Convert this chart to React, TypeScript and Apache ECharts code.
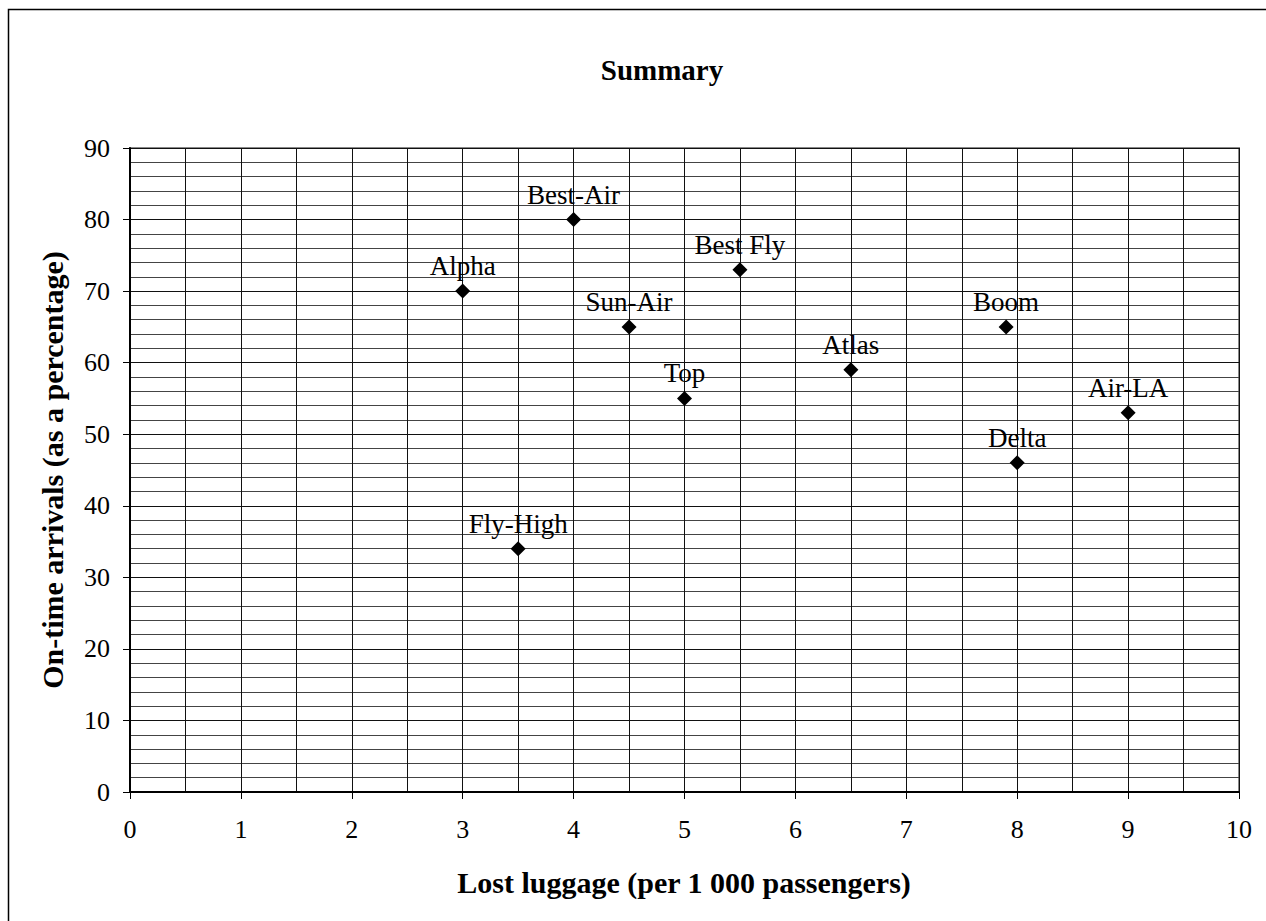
import React, { useEffect, useRef } from "react";
import * as echarts from "echarts";

const airlines = ["Alpha", "Fly-High", "Best-Air", "Sun-Air", "Top", "Best Fly", "Atlas", "Boom", "Delta", "Air-LA"];
const lostLuggage = [3, 3.5, 4, 4.5, 5, 5.5, 6.5, 7.9, 8, 9];
const onTime = [70, 34, 80, 65, 55, 73, 59, 65, 46, 53];

const FONT = "'Liberation Serif', 'Times New Roman', serif";

export default function App() {
  const ref = useRef<HTMLDivElement>(null);
  useEffect(() => {
    document.body.style.margin = "0";
    if (!ref.current) return;
    const chart = echarts.init(ref.current, null, { renderer: "svg" });
    const data = airlines.map((n, i) => ({ name: n, value: [lostLuggage[i], onTime[i]] }));
    chart.setOption({
      animation: false,
      backgroundColor: "#fff",
      textStyle: { fontFamily: FONT, color: "#000" },
      graphic: [
        {
          type: "rect",
          shape: { x: 8.5, y: 9.5, width: 1400, height: 1100 },
          style: { fill: "none", stroke: "#000", lineWidth: 1.5 },
          silent: true,
        },
        {
          type: "text",
          x: 662,
          y: 70,
          style: {
            text: "Summary",
            font: `bold 29px ${FONT}`,
            fill: "#000",
            textAlign: "center",
            textVerticalAlign: "middle",
          },
        },
        {
          type: "text",
          x: 684,
          y: 882,
          style: {
            text: "Lost luggage (per 1 000 passengers)",
            font: `bold 30px ${FONT}`,
            fill: "#000",
            textAlign: "center",
            textVerticalAlign: "middle",
          },
        },
        {
          type: "text",
          x: 52,
          y: 470,
          rotation: Math.PI / 2,
          style: {
            text: "On-time arrivals (as a percentage)",
            font: `bold 30px ${FONT}`,
            fill: "#000",
            textAlign: "center",
            textVerticalAlign: "middle",
          },
        },
      ],
      grid: {
        left: 130,
        top: 148,
        width: 1109,
        height: 644,
        show: true,
        borderColor: "#888",
        borderWidth: 2,
      },
      xAxis: {
        type: "value",
        min: 0,
        max: 10,
        interval: 1,
        axisLine: { show: true, lineStyle: { color: "#000", width: 2 } },
        axisTick: { show: true, length: 7, lineStyle: { color: "#000", width: 1 } },
        axisLabel: { fontSize: 26, fontFamily: FONT, color: "#000", margin: 24 },
        splitLine: { show: true, lineStyle: { color: "#111", width: 1 } },
        minorTick: { show: false, splitNumber: 2 },
        minorSplitLine: { show: true, lineStyle: { color: "#111", width: 1 } },
      },
      yAxis: {
        type: "value",
        min: 0,
        max: 90,
        interval: 10,
        axisLine: { show: true, lineStyle: { color: "#000", width: 2 } },
        axisTick: { show: true, length: 7, lineStyle: { color: "#000", width: 1 } },
        axisLabel: { fontSize: 26, fontFamily: FONT, color: "#000", margin: 20 },
        splitLine: { show: true, lineStyle: { color: "#111", width: 1 } },
        minorTick: { show: false, splitNumber: 5 },
        minorSplitLine: { show: true, lineStyle: { color: "#444", width: 1 } },
      },
      series: [
        {
          type: "scatter",
          symbol: "diamond",
          symbolSize: 15,
          itemStyle: { color: "#000", opacity: 1 },
          data,
          label: {
            show: true,
            position: "top",
            distance: 4,
            formatter: (p: any) => p.name,
            fontSize: 27,
            fontFamily: FONT,
            color: "#000",
            opacity: 1,
          },
        },
      ],
    });
    return () => chart.dispose();
  }, []);
  return <div ref={ref} style={{ width: 1266, height: 921 }} />;
}
